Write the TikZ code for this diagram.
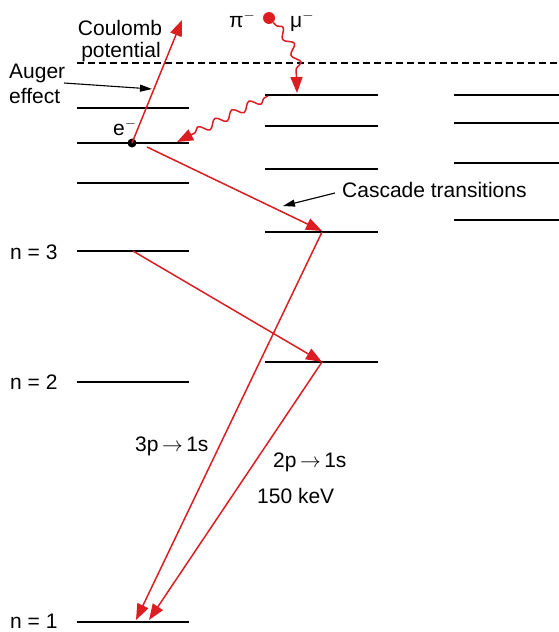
\documentclass[tikz,border=0pt]{standalone}
\usepackage{fontspec}
\setmainfont{Liberation Sans}
\usetikzlibrary{arrows.meta,decorations.pathmorphing}
\definecolor{myred}{RGB}{220,30,35}
\begin{document}
\begin{tikzpicture}[x=1pt,y=-1pt,
 level/.style={line width=1.6pt,black},
 redarr/.style={myred,line width=1.5pt,-{Triangle[length=16pt,width=12pt]}},
 blkarr/.style={black,line width=1.1pt,-{Triangle[length=12pt,width=7pt]}},
 lbl/.style={font=\fontsize{21}{23}\selectfont,inner sep=0pt},
 wavy/.style={myred,line width=1.5pt,decorate,decoration={snake,amplitude=4pt,segment length=19pt,post length=14pt,pre length=4pt},-{Triangle[length=16pt,width=12pt]}}]
\useasboundingbox (0,0) rectangle (559,632);
% dashed ionisation limit
\coordinate (dl) at (77,63); \coordinate (dr) at (559,63);
\draw[line width=1.3pt,dash pattern=on 7pt off 4pt] (dl) -- (dr);
% left column levels
\foreach \y/\n in {108/a1,143/a2,183/a3,251/a4,382/a5,622/a6}{
  \coordinate (\n l) at (77,\y); \coordinate (\n r) at (189,\y);
  \draw[level] (\n l) -- (\n r);}
% middle column levels
\foreach \y/\n in {95/b1,126/b2,169/b3,232/b4,362/b5}{
  \coordinate (\n l) at (265,\y); \coordinate (\n r) at (378,\y);
  \draw[level] (\n l) -- (\n r);}
% right column levels
\foreach \y/\n in {95/c1,123/c2,163/c3,220/c4}{
  \coordinate (\n l) at (454,\y); \coordinate (\n r) at (559,\y);
  \draw[level] (\n l) -- (\n r);}
% labels
\node[lbl,anchor=base west] (n3) at (10,259) {n = 3};
\node[lbl,anchor=base west] (n2) at (10,389) {n = 2};
\node[lbl,anchor=base west] (n1) at (10,628) {n = 1};
\node[lbl,anchor=base] (coul) at (120,35) {Coulomb};
\node[lbl,anchor=base] (pot) at (121,57) {potential};
\node[lbl,anchor=base west] (aug) at (9,78) {Auger};
\node[lbl,anchor=base west] (eff) at (9,103) {effect};
\node[lbl,anchor=base west] (casc) at (342,197) {Cascade transitions};
\node[lbl,anchor=base west] (t3) at (135,451) {3p\,$\rightarrow$\,1s};
\node[lbl,anchor=base west] (t2) at (273,467) {2p\,$\rightarrow$\,1s};
\node[lbl,anchor=base west] (kev) at (257,503) {150 keV};
\node[lbl,anchor=base west] (el) at (113,135) {e$^{-}$};
\node[lbl,anchor=base west] (pi) at (229,27) {π$^{-}$};
\node[lbl,anchor=base west] (mu) at (290,27) {μ$^{-}$};
% particles
\node[circle,fill=myred,inner sep=0pt,minimum size=12pt] (pdot) at (269,18) {};
\node[circle,fill=black,inner sep=0pt,minimum size=9pt] (edot) at (132,143) {};
% endpoints
\coordinate (ctip) at (182,20);
\coordinate (atip) at (152,89);
\coordinate (astart) at (64,83);
\coordinate (mutip) at (297,93);
\coordinate (w2s) at (268,96);
\coordinate (w2t) at (177,142);
\coordinate (cs1) at (147,147);
\coordinate (ce1) at (322,231);
\coordinate (cs2) at (133,251);
\coordinate (ce2) at (322,362);
\coordinate (x1) at (322,232);
\coordinate (x2) at (322,362);
\coordinate (y1) at (136,620);
\coordinate (y2) at (149,620);
\coordinate (cls) at (335,193);
\coordinate (clt) at (283,206);
% arrows
\draw[redarr] (edot.center) -- (ctip);
\draw[blkarr] (astart) -- (atip);
\draw[blkarr] (cls) -- (clt);
\draw[wavy] (pdot) .. controls (290,40) and (297,55) .. (mutip);
\draw[wavy] (w2s) -- (w2t);
\draw[redarr] (cs1) -- (ce1);
\draw[redarr] (cs2) -- (ce2);
\draw[redarr] (x1) -- (y1);
\draw[redarr] (x2) -- (y2);
\end{tikzpicture}
\end{document}
